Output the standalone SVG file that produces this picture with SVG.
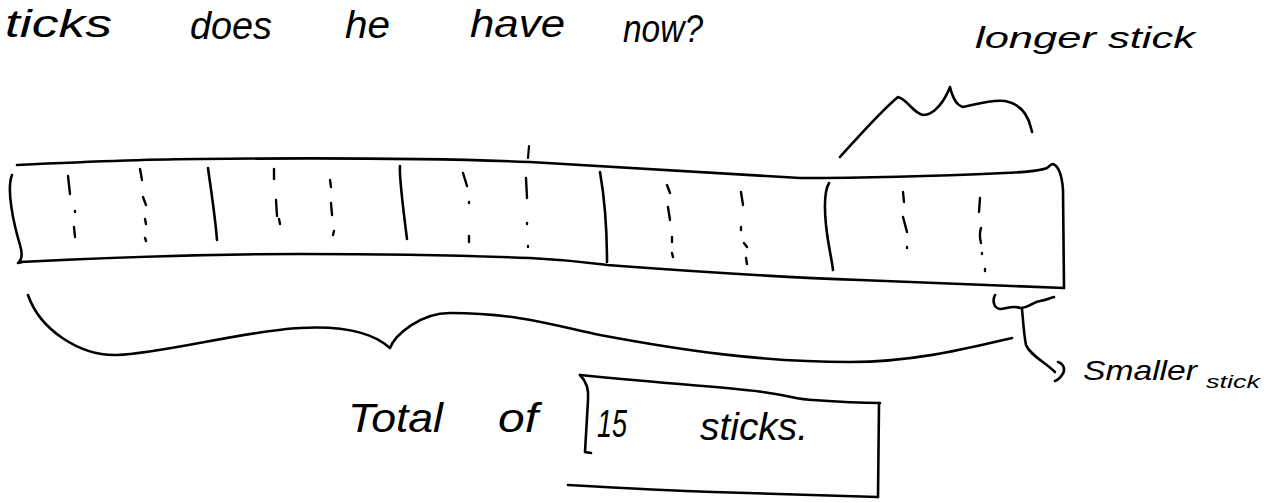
<svg xmlns="http://www.w3.org/2000/svg" width="1284" height="503" viewBox="0 0 1284 503">
<style>
.ink{fill:none;stroke:#000;stroke-width:2.6;stroke-linecap:round;stroke-linejoin:round}
.thin{fill:none;stroke:#000;stroke-width:2.2;stroke-linecap:round;stroke-linejoin:round}
.dash{fill:none;stroke:#000;stroke-width:2.4;stroke-linecap:round}
.hand{font-family:"Liberation Sans","DejaVu Sans",sans-serif;fill:#000;font-style:italic}
</style>
<rect width="1284" height="503" fill="#fff"/>
<g id="question-text">
<text class="hand" font-size="38" y="37"><tspan x="5" textLength="107" lengthAdjust="spacingAndGlyphs">ticks</tspan></text>
<text class="hand" font-size="38" y="39"><tspan x="190" textLength="82" lengthAdjust="spacingAndGlyphs">does</tspan></text>
<text class="hand" font-size="38" y="38"><tspan x="345" textLength="45" lengthAdjust="spacingAndGlyphs">he</tspan></text>
<text class="hand" font-size="38" y="37"><tspan x="470" textLength="95" lengthAdjust="spacingAndGlyphs">have</tspan></text>
<text class="hand" font-size="38" y="42"><tspan x="623" textLength="80" lengthAdjust="spacingAndGlyphs">now?</tspan></text>
</g>
<g id="bar">
<path class="ink" d="M17,165 C80,162 150,159 200,159 C300,158 430,158 530,162 C600,166 700,172 800,178 C880,178 960,175 1004,173 C1030,172 1042,170 1047,168 C1050,166 1051,164 1053,164 C1058,166 1062,175 1063,190 L1064,288"/>
<path class="ink" d="M20,262 C100,258 200,254 300,254 C380,254 450,255 530,258 C570,260 590,263 607,265 C700,272 780,277 860,280 C950,284 1010,286 1064,288"/>
<path class="ink" d="M12,175 C6,190 14,225 20,245 C23,255 22,260 18,263 L22,262"/>
<path class="ink" d="M208,168 C211,190 215,215 217,240"/>
<path class="ink" d="M400,166 C399,175 402,200 407,239"/>
<path class="ink" d="M600,172 C604,195 607,230 607,262"/>
<path class="ink" d="M829,183 C825,190 824,205 826,225 C828,245 832,260 833,270"/>
<path class="thin" d="M529,146 L528,158"/>
</g>
<g id="sub-divisions">
<path class="dash" d="M68,176 L70,194 M75,211 L75,212 M74,227 L75,237"/>
<path class="dash" d="M140,169 L142,180 M143,197 L146,205 M145,219 L146,224 M145,238 L146,241"/>
<path class="dash" d="M274,169 L274,179 M276,200 L277,216 M279,219 L280,224"/>
<path class="dash" d="M330,180 L331,187 M331,203 L332,215 M334,231 L333,235"/>
<path class="dash" d="M463,173 L467,186 M469,202 L469,203 M469,236 L469,242"/>
<path class="dash" d="M526,178 L527,198 M527,223 L527,224 M528,246 L528,247"/>
<path class="dash" d="M667,185 L670,193 M668,207 L670,220 M672,237 L672,242 M672,253 L673,257"/>
<path class="dash" d="M741,192 L743,205 M741,227 L741,230 M744,243 L747,247 M746,258 L747,264"/>
<path class="dash" d="M903,192 L904,202 M903,217 L907,232 M907,247 L907,248"/>
<path class="dash" d="M980,198 L979,212 M981,228 C979,234 980,239 981,243 M982,253 L982,254 M985,269 L985,271"/>
</g>
<g id="longer-stick-label">
<path class="ink" d="M840,157 C860,135 880,112 898,97 C908,100 913,113 923,115 C935,115 945,100 950,87 C952,95 955,105 963,107 C975,105 990,99 1005,101 C1020,104 1028,115 1031,128 L1032,132"/>
<text class="hand" font-size="30" y="48"><tspan x="975" textLength="220" lengthAdjust="spacingAndGlyphs">longer stick</tspan></text>
</g>
<g id="smaller-stick-label">
<path class="ink" d="M995,295 C992,301 994,308 1000,309 C1006,309 1012,305 1020,308 C1028,308 1033,302 1040,301 C1046,300 1050,298 1054,297"/>
<path class="ink" d="M1022,309 C1023,320 1024,335 1026,345 C1030,355 1045,362 1055,372"/>
<path class="ink" d="M1058,362 C1064,364 1066,370 1062,375 C1060,378 1058,380 1055,381"/>
<text class="hand" font-size="28" y="380"><tspan x="1083" textLength="114" lengthAdjust="spacingAndGlyphs">Smaller</tspan></text>
<text class="hand" font-size="18" y="388"><tspan x="1206" textLength="54" lengthAdjust="spacingAndGlyphs">stick</tspan></text>
</g>
<g id="total-brace">
<path class="ink" d="M28,295 C40,330 80,356 117,355 C160,354 250,330 300,328 C335,326 370,330 390,348 C395,335 420,313 450,313 C520,313 560,327 600,335 C680,350 760,362 850,362 C920,362 980,345 1012,338"/>
</g>
<g id="total">
<text class="hand" font-size="40" y="432"><tspan x="348" textLength="95" lengthAdjust="spacingAndGlyphs">Total</tspan></text>
<text class="hand" font-size="40" y="432"><tspan x="498" textLength="40" lengthAdjust="spacingAndGlyphs">of</tspan></text>
<path class="ink" d="M580,375 C587,382 589,390 588,400 L585,452 L591,453"/>
<path class="ink" d="M580,375 C680,385 740,388 763,392 C790,396 800,400 813,400 C840,402 860,403 880,403"/>
<path class="ink" d="M879,403 L878,497"/>
<path class="ink" d="M568,485 C620,488 680,491 713,492 C780,494 840,496 878,497"/>
<text class="hand" font-size="38" y="437"><tspan x="597" textLength="30" lengthAdjust="spacingAndGlyphs">15</tspan></text>
<text class="hand" font-size="38" y="440"><tspan x="700" textLength="108" lengthAdjust="spacingAndGlyphs">sticks.</tspan></text>
</g>
</svg>
